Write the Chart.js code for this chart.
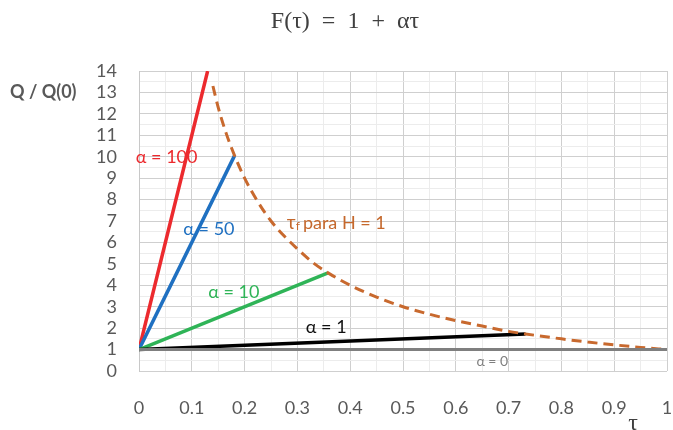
<!DOCTYPE html>
<html>
<head>
<meta charset="utf-8">
<script src="https://cdn.jsdelivr.net/npm/chart.js@4"></script>
<style>
  body { margin: 0; background: #fff; }
  #wrap { width: 673px; height: 430px; }
</style>
</head>
<body>
<div id="wrap"><canvas id="chart"></canvas></div>
<script>
// values
const tauA100 = [0, 0.13];
const qA100 = [1, 14];
const tauA50 = [0, 0.181];
const qA50 = [1, 10.05];
const tauA10 = [0, 0.358];
const qA10 = [1, 4.58];
const tauA1 = [0, 0.732];
const qA1 = [1, 1.73];
const tauA0 = [0, 1];
const qA0 = [1, 1];
// dashed curve: end of each line for H = 1
const tauLimit = [0.14, 0.15, 0.165, 0.181, 0.2, 0.225, 0.25, 0.275, 0.3, 0.33, 0.358, 0.4, 0.45, 0.5, 0.55, 0.6, 0.65, 0.7, 0.732, 0.8, 0.85, 0.9, 0.95, 1];
const qLimit = [13.3, 12.3, 11.1, 10.05, 9, 7.9, 7, 6.3, 5.7, 5.05, 4.58, 4, 3.45, 3, 2.65, 2.35, 2.1, 1.85, 1.73, 1.5, 1.35, 1.22, 1.1, 1];

const xMin = 0, xMax = 1;
const yMin = 0, yMax = 14;

const pts = (xs, ys) => xs.map((x, i) => ({ x: x, y: ys[i] }));

const labelFont = "Lato, 'Open Sans', sans-serif";

function isMajor(v, step) {
    const r = v / step;
    return Math.abs(r - Math.round(r)) < 1e-6;
}

// text drawn on top of the plot
const notes = [
    { text: "\u03b1 = 100", x: -0.006, y: 10.0, color: "#ec2a2e", size: 18 },
    { text: "\u03b1 = 50", x: 0.084, y: 6.6, color: "#1f70c1", size: 18 },
    { text: "\u03b1 = 10", x: 0.131, y: 3.7, color: "#2fb457", size: 18 },
    { text: "\u03b1 = 1", x: 0.316, y: 2.05, color: "#111111", size: 18 },
    { text: "\u03b1 = 0", x: 0.639, y: 0.43, color: "#7f7f7f", size: 14 }
];

const annotations = {
    id: "annotations",
    afterDatasetsDraw(chart) {
        const ctx = chart.ctx;
        const xs = chart.scales.x, ys = chart.scales.y;
        ctx.save();
        ctx.textBaseline = "middle";
        ctx.textAlign = "left";
        notes.forEach((n) => {
            ctx.font = `${n.size}px ${labelFont}`;
            ctx.fillStyle = n.color;
            ctx.fillText(n.text, xs.getPixelForValue(n.x), ys.getPixelForValue(n.y));
        });

        // tau_f para H = 1
        let px = xs.getPixelForValue(0.28);
        const py = ys.getPixelForValue(6.9);
        ctx.fillStyle = "#c5682c";
        ctx.font = `19px ${labelFont}`;
        ctx.fillText("\u03c4", px, py);
        px += ctx.measureText("\u03c4").width;
        ctx.font = `12px ${labelFont}`;
        ctx.fillText("f", px, py + 3);
        px += ctx.measureText("f").width + 3;
        ctx.font = `18px ${labelFont}`;
        ctx.fillText("para H = 1", px, py);

        // title and axis names
        ctx.fillStyle = "#404040";
        ctx.textAlign = "center";
        ctx.font = "24px 'Liberation Serif', serif";
        ctx.fillText("F(\u03c4)\u2002=\u20021\u2002+\u2002\u03b1\u03c4", 345, 22);
        ctx.fillText("\u03c4", 633, 424);
        ctx.textAlign = "left";
        ctx.fillStyle = "#595959";
        ctx.font = `bold 18px ${labelFont}`;
        ctx.fillText("Q / Q(0)", 10, 92);
        ctx.restore();
    }
};

const lineSet = (label, data, color, width, dash) => ({
    label: label,
    data: data,
    borderColor: color,
    backgroundColor: color,
    borderWidth: width,
    borderDash: dash || [],
    pointRadius: 0,
    showLine: true,
    fill: false,
    cubicInterpolationMode: "monotone"
});

new Chart(document.getElementById("chart"), {
    type: "scatter",
    data: {
        datasets: [
            lineSet("\u03b1 = 0", pts(tauA0, qA0), "#7f7f7f", 3),
            lineSet("limit", pts(tauLimit, qLimit), "#c8692e", 3, [10, 6]),
            lineSet("\u03b1 = 1", pts(tauA1, qA1), "#000000", 3.5),
            lineSet("\u03b1 = 10", pts(tauA10, qA10), "#2fb457", 3.5),
            lineSet("\u03b1 = 50", pts(tauA50, qA50), "#1f70c1", 3.5),
            lineSet("\u03b1 = 100", pts(tauA100, qA100), "#ec2a2e", 3.5)
        ]
    },
    options: {
        responsive: true,
        maintainAspectRatio: false,
        animation: false,
        layout: { padding: { top: 71, right: 6, left: 0, bottom: 0 } },
        plugins: {
            legend: { display: false },
            tooltip: { enabled: false }
        },
        scales: {
            x: {
                type: "linear",
                min: xMin,
                max: xMax,
                afterFit(scale) {
                    scale.height = 59;
                    scale.paddingLeft = 0;
                    scale.paddingRight = 0;
                },
                border: { display: false },
                grid: {
                    drawTicks: false,
                    color: (c) => isMajor(c.tick.value, 0.1) ? "#cfcfcf" : "#ececec"
                },
                ticks: {
                    stepSize: 0.05,
                    padding: 26,
                    color: "#595959",
                    font: { family: labelFont, size: 18 },
                    maxRotation: 0,
                    autoSkip: false,
                    callback: (v) => isMajor(v, 0.1) ? String(Math.round(v * 10) / 10) : ""
                }
            },
            y: {
                type: "linear",
                min: yMin,
                max: yMax,
                afterFit(scale) { scale.width = 139; },
                border: { display: true, color: "#c8c8c8" },
                grid: {
                    drawTicks: false,
                    color: (c) => isMajor(c.tick.value, 1) ? "#cfcfcf" : "#ececec"
                },
                ticks: {
                    stepSize: 0.5,
                    padding: 22,
                    color: "#595959",
                    font: { family: labelFont, size: 18 },
                    autoSkip: false,
                    callback: (v) => isMajor(v, 1) ? String(Math.round(v)) : ""
                }
            }
        }
    },
    plugins: [annotations]
});
</script>
</body>
</html>
